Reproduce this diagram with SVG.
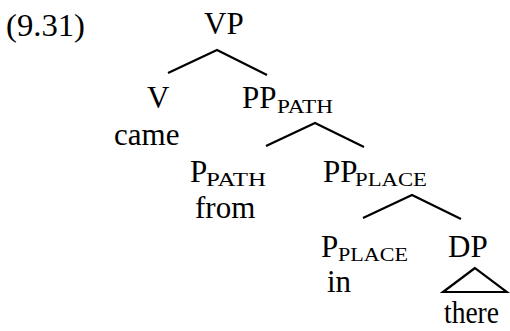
<svg xmlns="http://www.w3.org/2000/svg" width="510" height="331" viewBox="0 0 510 331">
<style>
text{font-family:"Liberation Serif","Times New Roman",serif;fill:#000}
.m{font-size:31px}
.s{font-size:18px}
.e{stroke:#000;stroke-width:2.2;fill:none;stroke-linejoin:miter}
</style>
<rect width="510" height="331" fill="#fff"/>
<text class="m" x="6" y="36" textLength="79" lengthAdjust="spacingAndGlyphs">(9.31)</text>
<g id="VP"><text class="m" x="204" y="34">VP</text></g>
<g id="V"><text class="m" x="147" y="108">V</text><text class="m" x="114" y="145">came</text></g>
<g id="PP_PATH"><text class="m" x="242" y="108">PP</text><text class="s" x="277" y="113" textLength="56" lengthAdjust="spacingAndGlyphs">PATH</text></g>
<g id="P_PATH"><text class="m" x="190" y="182">P</text><text class="s" x="206" y="186" textLength="60" lengthAdjust="spacingAndGlyphs">PATH</text><text class="m" x="195" y="218">from</text></g>
<g id="PP_PLACE"><text class="m" x="323" y="182">PP</text><text class="s" x="355" y="186" textLength="72" lengthAdjust="spacingAndGlyphs">PLACE</text></g>
<g id="P_PLACE"><text class="m" x="321" y="257">P</text><text class="s" x="338" y="261" textLength="70" lengthAdjust="spacingAndGlyphs">PLACE</text><text class="m" x="327" y="292">in</text></g>
<g id="DP"><text class="m" x="448" y="257">DP</text><polygon class="e" points="475,268 443,292 507,292"/><text class="m" x="444" y="323" textLength="55" lengthAdjust="spacingAndGlyphs">there</text></g>
<g id="connectors">
<polyline class="e" points="168,73 217,50 267,75"/>
<polyline class="e" points="266,146 315,123 364,147"/>
<polyline class="e" points="363,218 412,195 461,219"/>
</g>
</svg>
